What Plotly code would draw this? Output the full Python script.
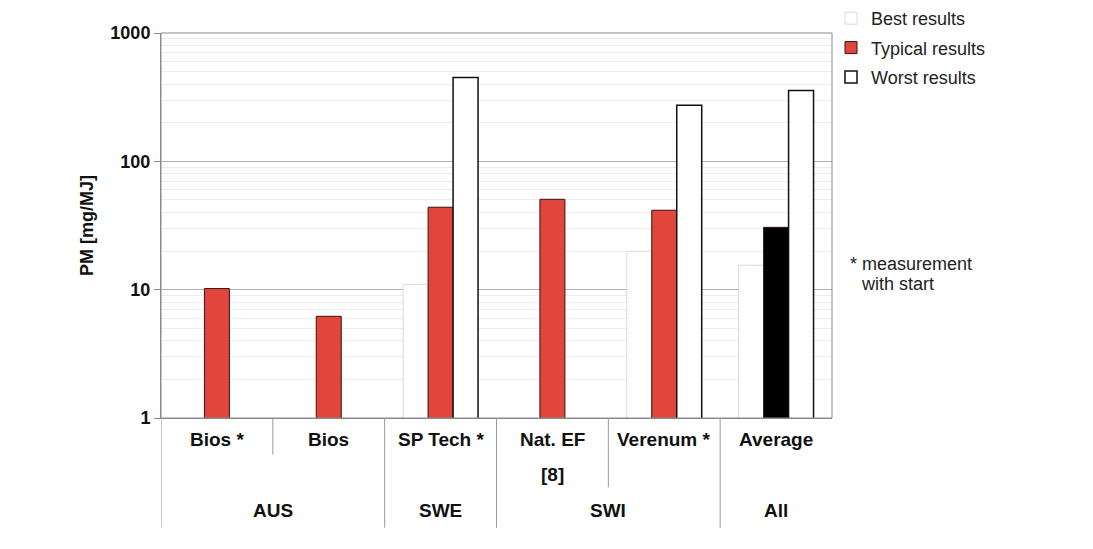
import plotly.graph_objects as go

categories = ["Bios *", "Bios", "SP Tech *", "Nat. EF", "Verenum *", "Average"]
label_row1 = ["Bios *", "Bios", "SP Tech *", "Nat. EF", "Verenum *", "Average"]
groups = ["AUS", "SWE", "SWI", "All"]
group_spans = [(0, 1), (2, 2), (3, 4), (5, 5)]
best = [None, None, 11.0, None, 19.9, 15.5]
typical = [10.2, 6.2, 43.9, 50.6, 41.6, 30.6]
worst = [None, None, 451, None, 273, 357]
typical_colors = ["#E0463C"] * 5 + ["#000000"]

FONT = "Liberation Sans, Arial, sans-serif"

fig = go.Figure()
fig.add_trace(go.Bar(x=categories, y=best, name="Best results", legendgroup="a",
                     marker=dict(color="white", line=dict(color="#dadada", width=1))))
fig.add_trace(go.Bar(x=categories, y=typical, name="Typical results", legendgroup="b",
                     marker=dict(color=typical_colors, line=dict(color="#3a1010", width=1))))
fig.add_trace(go.Bar(x=categories, y=worst, name="Worst results", legendgroup="c",
                     marker=dict(color="white", line=dict(color="#111111", width=1.5))))

shapes = []
shapes.append(dict(type="rect", xref="paper", yref="paper", x0=0, x1=1, y0=0, y1=1,
                   line=dict(color="#8a8a8a", width=1), layer="above"))
n = len(categories)
group_bounds = set()
for a, b in group_spans:
    group_bounds.add(a - 0.5)
    group_bounds.add(b + 0.5)
for i in range(n + 1):
    xb = i - 0.5
    if xb in group_bounds:
        if xb == n - 0.5:
            continue
        y0 = -0.285
    elif i == 1:
        y0 = -0.095
    else:
        y0 = -0.18
    shapes.append(dict(type="line", xref="x", yref="paper", x0=xb, x1=xb, y0=0, y1=y0,
                       line=dict(color="#9a9a9a", width=1)))

LBL = dict(size=19, color="#111", family=FONT)
annotations = []
for i, lab in enumerate(label_row1):
    annotations.append(dict(x=i, y=-0.055, xref="x", yref="paper", yanchor="middle",
                            text="<b>%s</b>" % lab, showarrow=False, font=LBL))
annotations.append(dict(x=3, y=-0.148, xref="x", yref="paper", yanchor="middle",
                        text="<b>[8]</b>", showarrow=False, font=LBL))
for g, (a, b) in zip(groups, group_spans):
    annotations.append(dict(x=(a + b) / 2, y=-0.239, xref="x", yref="paper", yanchor="middle",
                            text="<b>%s</b>" % g, showarrow=False, font=LBL))
annotations.append(dict(x=(848 - 161) / 671, y=(418 - 264) / 385, xref="paper", yref="paper",
                        xanchor="left", yanchor="middle", text="* measurement", showarrow=False,
                        font=dict(size=18, color="#222", family=FONT)))
annotations.append(dict(x=(859 - 161) / 671, y=(418 - 284) / 385, xref="paper", yref="paper",
                        xanchor="left", yanchor="middle", text="with start", showarrow=False,
                        font=dict(size=18, color="#222", family=FONT)))

fig.update_layout(
    width=1093, height=549,
    margin=dict(l=153, r=269, t=25, b=139, autoexpand=False),
    paper_bgcolor="white", plot_bgcolor="white",
    barmode="group", bargap=0.33, bargroupgap=0,
    font=dict(family=FONT, color="#111"),
    showlegend=True,
    legend=dict(x=(831 - 161) / 671, y=(418 + 0) / 385, xanchor="left", yanchor="top",
                font=dict(size=18, color="#222", family=FONT), tracegroupgap=3,
                bgcolor="rgba(0,0,0,0)"),
    shapes=shapes, annotations=annotations,
)
fig.update_xaxes(type="category", categoryorder="array", categoryarray=categories,
                 showticklabels=False, showgrid=False, showline=True, linecolor="#8a8a8a",
                 ticks="", zeroline=False, range=[-0.5, n - 0.5])
fig.update_yaxes(type="log", range=[0, 3], tickvals=[1, 10, 100, 1000],
                 ticktext=["<b>1</b>", "<b>10</b>", "<b>100</b>", "<b>1000</b>"],
                 tickfont=dict(size=18, color="#111", family=FONT),
                 ticks="outside", ticklen=6, tickcolor="#8a8a8a",
                 showgrid=True, gridcolor="#b0b0b0", gridwidth=1,
                 minor=dict(showgrid=True, gridcolor="#ececec", gridwidth=1,
                            tickvals=[v * d for d in (1, 10, 100) for v in range(2, 10)]),
                 showline=True, linecolor="#8a8a8a", zeroline=False,
                 title=dict(text="<b>PM [mg/MJ]</b>", font=dict(size=18, color="#111", family=FONT),
                            standoff=12))

fig.write_html("out.html")
